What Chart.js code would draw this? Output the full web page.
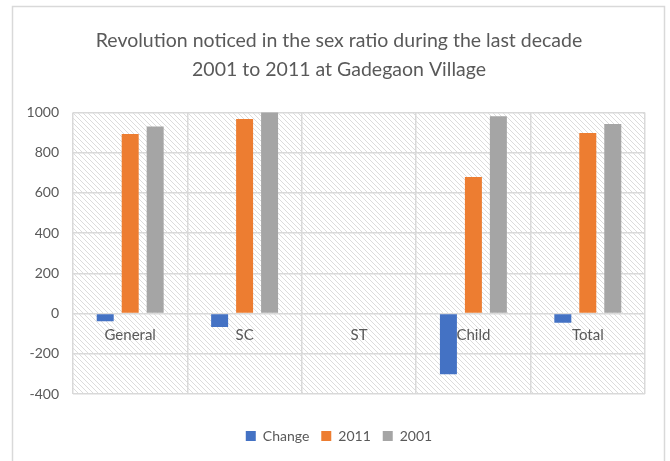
<!DOCTYPE html>
<html>
<head>
<meta charset="utf-8">
<script src="https://cdn.jsdelivr.net/npm/chart.js@4.4.1/dist/chart.umd.min.js"></script>
<style>
html,body{margin:0;padding:0;background:#fff;}
#wrap{position:relative;width:670px;height:461px;}
</style>
</head>
<body>
<div id="wrap"><canvas id="c" width="670" height="461"></canvas></div>
<script>
const categories = ["General", "SC", "ST", "Child", "Total"];
const changeValues = [-38, -67, null, -302, -45];
const values2011 = [893, 968, null, 680, 898];
const values2001 = [930, 1035, null, 982, 943];
const yTicks = [-400, -200, 0, 200, 400, 600, 800, 1000];
const titleLines = ["Revolution noticed in the sex ratio during the last decade", "2001 to 2011 at Gadegaon Village"];

const FONT = "Lato, 'Open Sans', sans-serif";
const TXT = "#595959";
const GRID = "#d9d9d9";

function makeHatch() {
  const p = document.createElement('canvas');
  p.width = 5; p.height = 5;
  const g = p.getContext('2d');
  g.fillStyle = '#ffffff';
  g.fillRect(0, 0, 5, 5);
  g.strokeStyle = '#dcdcdc';
  g.lineWidth = 1;
  g.beginPath();
  g.moveTo(-1, -1); g.lineTo(6, 6);
  g.moveTo(-1, 4); g.lineTo(1, 6);
  g.moveTo(4, -1); g.lineTo(6, 1);
  g.stroke();
  return p;
}

const bgPlugin = {
  id: 'bg',
  beforeDraw(chart) {
    const ctx = chart.ctx;
    const a = chart.chartArea;
    ctx.save();
    ctx.fillStyle = '#fff';
    ctx.fillRect(0, 0, chart.width, chart.height);
    ctx.strokeStyle = GRID;
    ctx.lineWidth = 1.5;
    ctx.strokeRect(12.5, 6.5, 652, 470);
    ctx.fillStyle = ctx.createPattern(makeHatch(), 'repeat');
    ctx.fillRect(a.left, a.top, a.right - a.left, a.bottom - a.top);
    ctx.restore();
  }
};

new Chart(document.getElementById('c'), {
  type: 'bar',
  data: {
    labels: categories,
    datasets: [
      { label: 'Change', data: changeValues, backgroundColor: '#4472c4' },
      { label: '2011', data: values2011, backgroundColor: '#ed7d31' },
      { label: '2001', data: values2001, backgroundColor: '#a5a5a5' }
    ]
  },
  options: {
    responsive: false,
    animation: false,
    categoryPercentage: 0.655,
    barPercentage: 0.68,
    layout: { padding: { left: 12, right: 4, top: 16, bottom: 8 } },
    scales: {
      x: {
        position: { y: 0 },
        grid: { color: GRID, lineWidth: 1.5, drawTicks: false, offset: true },
        border: { display: false },
        ticks: { color: TXT, font: { family: FONT, size: 15 }, padding: 13 }
      },
      y: {
        min: -400, max: 1000,
        afterBuildTicks(scale) { scale.ticks = yTicks.map(v => ({ value: v })); },
        grid: { color: GRID, lineWidth: 1.5, drawTicks: false },
        border: { display: false },
        ticks: { color: TXT, font: { family: FONT, size: 14 }, padding: 14, callback: v => String(v) },
        afterFit(scale) { scale.width = 61; }
      },
      yRight: {
        position: 'right',
        grid: { display: false, drawTicks: false },
        border: { display: false },
        ticks: { display: false },
        afterFit(scale) { scale.width = 21; }
      }
    },
    plugins: {
      title: {
        display: true,
        text: titleLines,
        color: TXT,
        font: { family: FONT, size: 19.5, weight: 'normal', lineHeight: 1.45 },
        padding: { top: 11, bottom: 29 }
      },
      legend: {
        position: 'bottom',
        title: { display: true, text: ' ', font: { size: 10, lineHeight: 1 }, padding: { top: 0, bottom: 13 } },
        labels: { color: TXT, font: { family: FONT, size: 14 }, boxWidth: 10, boxHeight: 10, padding: 12 }
      },
      tooltip: { enabled: false }
    }
  },
  plugins: [bgPlugin]
});
</script>
</body>
</html>
